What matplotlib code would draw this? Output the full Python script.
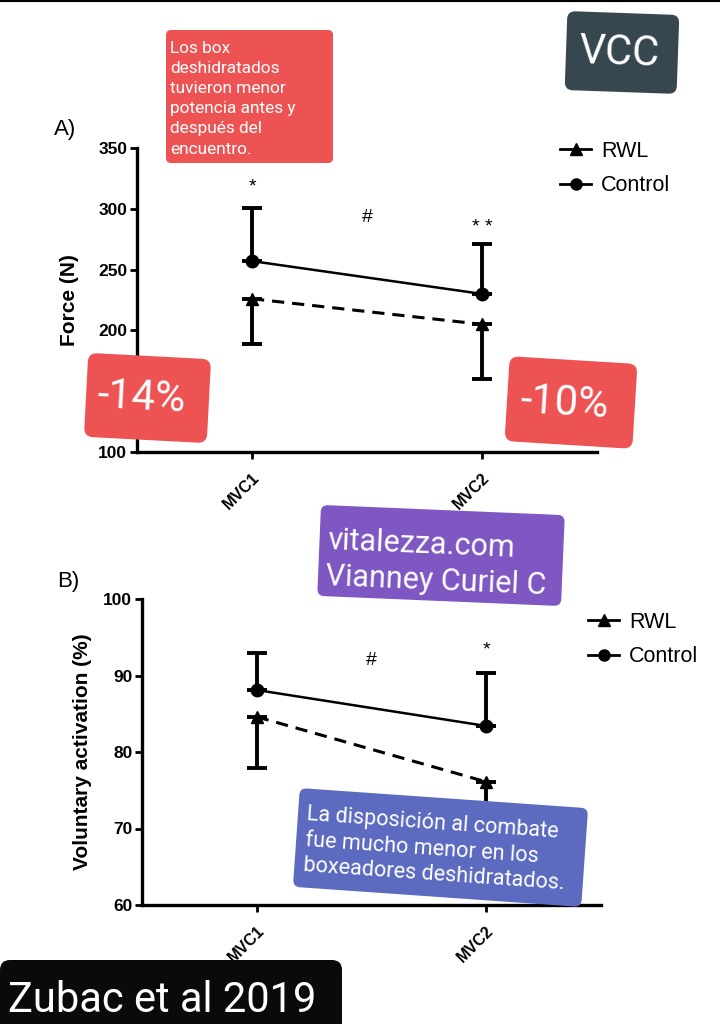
import matplotlib
matplotlib.use("Agg")
import matplotlib.pyplot as plt
from matplotlib.patches import FancyBboxPatch
from matplotlib.lines import Line2D
from matplotlib.transforms import Affine2D

# ---------------- data ----------------
categories = ["MVC1", "MVC2"]
x_pos = [0, 1]

force_control = [257, 230]
force_control_err_up = [44, 41]
force_rwl = [226, 205]
force_rwl_err_down = [37, 45]
force_yticks = [100, 150, 200, 250, 300, 350]

va_control = [88.1, 83.4]
va_control_err_up = [4.9, 6.9]
va_rwl = [84.6, 76.1]
va_rwl_err_down = [6.7, 7.0]
va_yticks = [60, 70, 80, 90, 100]

note_red = ["Los box", "deshidratados", "tuvieron menor", "potencia antes y",
            "después del", "encuentro."]
note_purple = ["vitalezza.com", "Vianney Curiel C"]
note_blue = ["La disposición al combate", "fue mucho menor en los",
             "boxeadores deshidratados."]

W, H = 720, 1024
fig = plt.figure(figsize=(W / 100, H / 100), dpi=100)
fig.patch.set_facecolor("white")

CHART_FONT = ["Liberation Sans", "DejaVu Sans"]
OV_FONT = ["Roboto", "DejaVu Sans"]


def px_axes(l, t, r, b):
    return fig.add_axes([l / W, 1 - b / H, (r - l) / W, (b - t) / H])


def style_axes(ax, ylim, yticks, ylabel, labelpad):
    ax.set_xlim(-0.5, 1.5)
    ax.set_ylim(*ylim)
    for s in ["top", "right"]:
        ax.spines[s].set_visible(False)
    for s in ["left", "bottom"]:
        ax.spines[s].set_linewidth(2.4)
    ax.set_yticks(yticks)
    ax.set_yticklabels([str(v) for v in yticks], fontweight="bold",
                       fontsize=12.5, family=CHART_FONT)
    ax.set_xticks(x_pos)
    ax.set_xticklabels(categories, rotation=45, ha="right",
                       rotation_mode="anchor", fontweight="bold",
                       fontsize=11.5, family=CHART_FONT)
    ax.tick_params(axis="both", length=5, width=2, direction="out", pad=2)
    ax.tick_params(axis="x", pad=8)
    ax.set_ylabel(ylabel, fontweight="bold", fontsize=15, family=CHART_FONT,
                  labelpad=labelpad)
    ax.patch.set_alpha(0)


def draw_series(ax, ctrl, ctrl_up, rwl, rwl_down):
    ax.errorbar(x_pos, ctrl, yerr=[[0] * len(ctrl), ctrl_up], fmt="o-",
                color="black", lw=1.8, ms=9, elinewidth=2.8, capsize=7,
                capthick=2.8, zorder=3)
    ax.errorbar(x_pos, rwl, yerr=[rwl_down, [0] * len(rwl)], fmt="^",
                color="black", ms=9, elinewidth=2.8, capsize=7,
                capthick=2.8, zorder=3)
    ax.plot(x_pos, rwl, color="black", lw=2.2, ls=(0, (4, 2.6)), zorder=2)


def legend(ax, x, y):
    handles = [Line2D([], [], color="black", marker="^", lw=2, ms=8),
               Line2D([], [], color="black", marker="o", lw=2, ms=8)]
    ax.legend(handles, ["RWL", "Control"], loc="upper left",
              bbox_to_anchor=(x / W, 1 - y / H), bbox_transform=fig.transFigure,
              frameon=False, handlelength=1.45, handletextpad=0.45,
              labelspacing=0.62, borderpad=0, borderaxespad=0,
              prop={"family": CHART_FONT, "size": 15.5})


# ---------------- Panel A ----------------
axA = px_axes(137, 148, 597, 452)
draw_series(axA, force_control, force_control_err_up, force_rwl, force_rwl_err_down)
style_axes(axA, (100, 350), force_yticks, "Force (N)", 14)
legend(axA, 560, 141)
axA.text(0, 318, "*", ha="center", va="center", fontsize=14, family=CHART_FONT)
axA.text(0.5, 293, "#", ha="center", va="center", fontsize=14, family=CHART_FONT)
axA.text(1, 285, "* *", ha="center", va="center", fontsize=14, family=CHART_FONT)
fig.text(54 / W, 1 - 129 / H, "A)", fontsize=16, family=CHART_FONT, va="center")

# ---------------- Panel B ----------------
axB = px_axes(142, 599, 601, 905)
draw_series(axB, va_control, va_control_err_up, va_rwl, va_rwl_err_down)
style_axes(axB, (60, 100), va_yticks, "Voluntary activation (%)", 8)
legend(axB, 588, 612)
axB.text(0.5, 92.0, "#", ha="center", va="center", fontsize=14, family=CHART_FONT)
axB.text(1, 93.4, "*", ha="center", va="center", fontsize=14, family=CHART_FONT)
fig.text(57 / W, 1 - 581 / H, "B)", fontsize=16, family=CHART_FONT, va="center")

# ---------------- overlays ----------------
inch = fig.dpi_scale_trans


def box(l, t, w, h, color, angle=0, rad=8):
    cx, cy = (l + w / 2) / 100, (H - t - h / 2) / 100
    tr = Affine2D().rotate_deg_around(cx, cy, angle) + inch
    p = FancyBboxPatch((l / 100, (H - t - h) / 100), w / 100, h / 100,
                       boxstyle=f"round,pad=0,rounding_size={rad / 100}",
                       fc=color, ec="none", transform=tr, zorder=10)
    fig.add_artist(p)
    return tr, angle


def txt(trang, x, y, s, size, ha="left", va="baseline"):
    tr, ang = trang
    fig.text(x / 100, (H - y) / 100, s, transform=tr, fontsize=size,
             color="white", family=OV_FONT, ha=ha, va=va, zorder=11,
             rotation=ang, rotation_mode="anchor")


def lines(trang, x, y0, step, rows, size):
    for i, s in enumerate(rows):
        txt(trang, x, y0 + i * step, s, size)


RED = "#EE5353"
# top red note
tr = box(166, 30, 167, 133, RED, 0, 5)
lines(tr, 170, 53, 20.1, note_red, 12.4)
# VCC
tr = box(566, 13, 112, 79, "#37474F", -2, 8)
txt(tr, 619, 53, "VCC", 30, ha="center", va="center")
# -14%
tr = box(86, 356, 123, 84, RED, -3, 9)
txt(tr, 141, 398, "-14%", 30, ha="center", va="center")
# -10%
tr = box(507, 360, 128, 85, RED, -3.5, 9)
txt(tr, 564, 404, "-10%", 30, ha="center", va="center")
# purple watermark
tr = box(319, 510, 244, 91, "#7E57C2", -2.4, 7)
lines(tr, 327, 554, 36, note_purple, 22)
# blue note
tr = box(296, 798, 289, 99, "#5C6BC0", -4, 7)
lines(tr, 305, 829, 26, note_blue, 15.6)
# bottom black label
tr = box(0, 960, 342, 90, "#0A0A0A", 0, 10)
txt(tr, 8, 1012, "Zubac et al 2019", 30)

# top border line
fig.add_artist(Line2D([0, 1], [0.999, 0.999], transform=fig.transFigure,
                      color="black", lw=1.5))

fig.savefig("out.png", dpi=100)
